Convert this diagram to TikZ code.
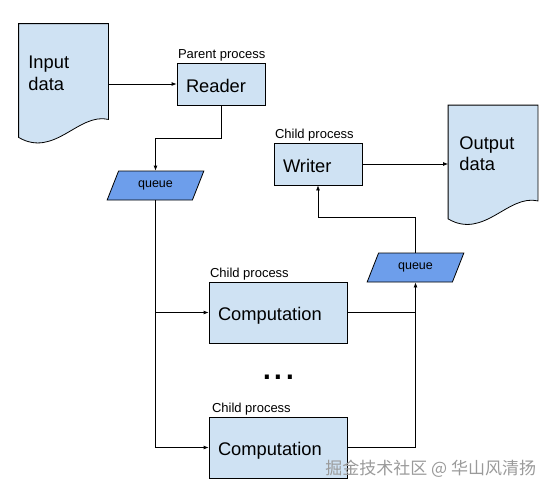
\documentclass[tikz,border=0pt]{standalone}
\usepackage{fontspec}
\setmainfont{Liberation Sans}
\newfontfamily\cjkfont{Noto Sans CJK SC}
\usetikzlibrary{arrows.meta,shapes.geometric,calc}
\definecolor{boxblue}{HTML}{CFE2F3}
\definecolor{queueblue}{HTML}{6D9EEB}
\definecolor{markgray}{HTML}{9A9A9A}
\tikzset{
  >={Latex[length=5pt,width=4pt]},
  procbox/.style={draw, fill=boxblue, align=left, inner xsep=9pt, inner ysep=0pt,
    text height=17pt, text depth=1pt, font=\fontsize{18.3}{21}\selectfont},
  proclabel/.style={font=\fontsize{13}{15}\selectfont, inner sep=1pt, anchor=south west},
  queuebox/.style={trapezium, trapezium left angle=60, trapezium right angle=120,
    trapezium stretches=true, draw, fill=queueblue, minimum width=97pt,
    minimum height=29pt, inner sep=0pt, font=\fontsize{12.5}{14}\selectfont},
  docarea/.style={minimum width=89pt, minimum height=95pt, inner sep=0pt},
  docline/.style={draw, fill=boxblue},
  doctext/.style={align=left, inner sep=0pt, anchor=north west,
    font=\fontsize{18.3}{21.5}\selectfont},
}
\begin{document}
\begin{tikzpicture}[x=1pt, y=-1pt, line width=0.8pt]
    \useasboundingbox (0,0) rectangle (553,493);
    % documents
    \node [docarea] (indoc) at (63.5,71.5) {};
    \draw [docline] (indoc.north west) -- (indoc.north east) -- (indoc.south east)
        .. controls +(-30,-7) and +(36,21) .. ($(indoc.south west)+(0,18)$) -- cycle;
    \node [doctext] (intext) at (28,56) {Input\\data};
    \node [docarea] (outdoc) at (493,153) {};
    \draw [docline] (outdoc.north west) -- (outdoc.north east) -- (outdoc.south east)
        .. controls +(-30,-7) and +(36,21) .. ($(outdoc.south west)+(0,18)$) -- cycle;
    \node [doctext] (outtext) at (459,136) {Output\\data};
    % processes
    \node [procbox, text width=70pt, minimum height=42pt,
        label={[proclabel]north west:Parent process}] (reader) at (221,84) {Reader};
    \node [procbox, text width=70pt, minimum height=42pt,
        label={[proclabel]north west:Child process}] (writer) at (318,164) {Writer};
    \node [procbox, text width=120pt, minimum height=61pt,
        label={[proclabel]north west:Child process}] (comp1) at (278,312.5) {Computation};
    \node [procbox, text width=120pt, minimum height=61pt,
        label={[proclabel,xshift=2pt]north west:Child process}] (comp2) at (278,447.5) {Computation};
    \node [font=\fontsize{42}{42}\selectfont, inner sep=0pt, anchor=base] (dots) at (278.5,379.5) {...};
    % queues
    \node [queuebox] (q1) at (155.5,185.5) {queue};
    \node [queuebox] (q2) at (415.5,267.5) {queue};
    % connectors
    \draw [->] (indoc.east |- reader.west) -- (reader.west);
    \draw [->] (writer.east) -- (writer.east -| outdoc.west);
    \draw [->] (reader.south) -- ++(0,33) -| (q1.north);
    \draw [->] (q2.north) -- ++(0,-35) -| (writer.south);
    \draw [->] (q1.south) |- (comp2.west);
    \draw [->] (q1.south |- comp1.west) -- (comp1.west);
    \draw [->] (comp1.east) -| (q2.south);
    \draw (comp2.east) -| (comp1.east -| q2.south);
    \node [text=markgray, font=\cjkfont\fontsize{17}{17}\selectfont, anchor=base west,
        inner sep=0pt] (mark) at (325,474) {掘金技术社区 @ 华山风清扬};
\end{tikzpicture}
\end{document}
